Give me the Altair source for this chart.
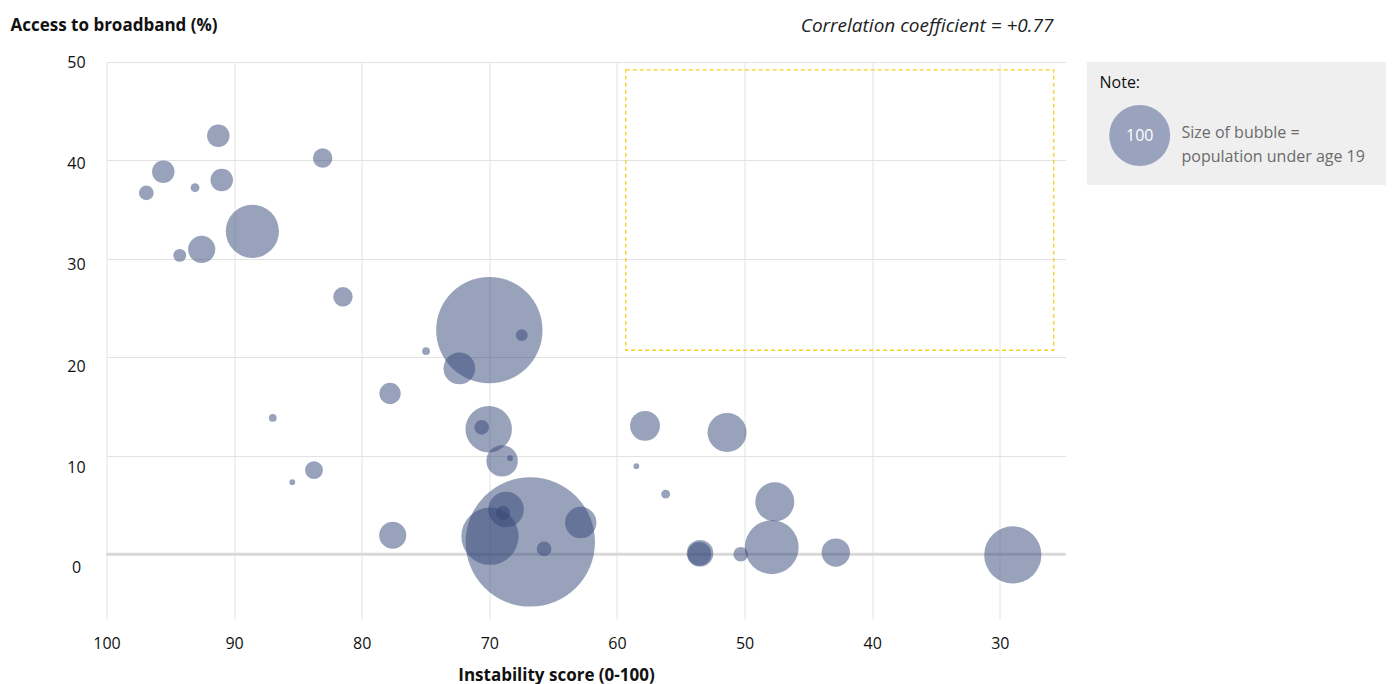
import altair as alt
import pandas as pd

# ---- data ----
instability = [96.88, 95.55, 93.06, 91.24, 90.97, 94.26, 92.54, 88.57, 83.06, 81.47,
               74.96, 70.00, 67.46, 72.35, 77.78, 86.97, 70.05, 70.60, 69.00, 68.38,
               83.74, 85.44, 77.57, 66.79, 69.95, 68.69, 68.93, 65.71, 62.84, 57.80,
               58.48, 56.18, 51.37, 47.63, 47.87, 53.49, 53.54, 50.30, 42.85, 28.98]
broadband = [36.70, 38.85, 37.23, 42.51, 38.01, 30.36, 30.97, 32.80, 40.24, 26.15,
             20.63, 22.76, 22.26, 18.87, 16.33, 13.85, 12.70, 12.89, 9.48, 9.76,
             8.54, 7.32, 1.93, 1.25, 1.83, 4.54, 4.20, 0.54, 3.22, 13.04,
             8.94, 6.10, 12.37, 5.32, 0.71, 0.10, 0.03, 0.00, 0.17, -0.07]
population = [5.8, 13.6, 2.1, 13.6, 13.6, 4.5, 19.8, 76, 10.2, 10.2,
              1.6, 304, 3.8, 27, 12.2, 1.6, 58, 5.8, 26.5, 0.9,
              8.5, 0.9, 19.8, 450, 88, 34, 5.4, 5.8, 26.5, 24,
              0.9, 2.1, 41, 41, 78, 19, 15, 5.8, 21.6, 88]

x_ticks = [100, 90, 80, 70, 60, 50, 40, 30]
y_ticks = [0, 10, 20, 30, 40, 50]
x_domain = [24.85, 100]
y_domain = [-6.58, 50]

# highlighted (empty) quadrant
box_x = [59.31]
box_x2 = [25.77]
box_y = [49.2]
box_y2 = [20.72]

legend_value = [100]
title_text = "Access to broadband (%)"
x_title = "Instability score (0-100)"
corr_text = "Correlation coefficient = +0.77"
note_title = "Note:"
note_lines = ["Size of bubble =", "population under age 19"]

FONT = "Open Sans"
W, H = 959, 557

df = pd.DataFrame({"instability": instability, "broadband": broadband, "population": population})
box_df = pd.DataFrame({"x": box_x, "x2": box_x2, "y": box_y, "y2": box_y2})
zero_df = pd.DataFrame({"y": [0]})
leg_df = pd.DataFrame({"v": legend_value})
one = pd.DataFrame({"k": [0]})

xscale = alt.Scale(domain=x_domain, reverse=True, nice=False, zero=False)
yscale = alt.Scale(domain=y_domain, nice=False, zero=False)
sscale = alt.Scale(domain=[0, 100], range=[0, 3718])

x_axis = alt.Axis(values=x_ticks, grid=True, gridColor="#e2e2e2", domain=False, ticks=False,
                  tickSize=0, labelPadding=16, labelFlush=False, labelFont=FONT, labelFontSize=16,
                  labelColor="#111111", title=x_title, titleFont=FONT, titleFontSize=17,
                  titleFontWeight="bold", titleColor="#111111", titleX=449.5, titleY=56,
                  titleAlign="center", titleBaseline="middle")
y_axis = alt.Axis(values=y_ticks, grid=True, gridColor="#e2e2e2", domain=False, ticks=False,
                  tickSize=0, labelPadding=30.5, labelFlush=False, labelAlign="center",
                  labelBaseline="middle",
                  labelOffset={"condition": [
                      {"test": "datum.value <= 0", "value": 13},
                      {"test": "datum.value <= 10", "value": 12},
                      {"test": "datum.value <= 20", "value": 9},
                      {"test": "datum.value <= 30", "value": 6},
                      {"test": "datum.value <= 40", "value": 3}], "value": 0},
                  labelFont=FONT, labelFontSize=16, labelColor="#111111",
                  title=title_text, titleFont=FONT, titleFontSize=17, titleFontWeight="bold",
                  titleColor="#111111", titleAngle=0, titleAlign="left", titleBaseline="middle",
                  titleX=-96.5, titleY=-37)

base_bubbles = alt.Chart(df).mark_circle(color="#334578", opacity=0.5, strokeWidth=0).encode(
    x=alt.X("instability:Q", scale=xscale, axis=x_axis),
    y=alt.Y("broadband:Q", scale=yscale, axis=y_axis),
    size=alt.Size("population:Q", scale=sscale, legend=None),
)

zero_line = alt.Chart(zero_df).mark_rule(color="#d9d9d9", strokeWidth=3).encode(
    y=alt.Y("y:Q", scale=yscale)
)

quad = alt.Chart(box_df).mark_rect(fill="transparent", stroke="#f5cf1b", strokeWidth=1.3,
                                   strokeDash=[4, 3]).encode(
    x=alt.X("x:Q", scale=xscale), x2="x2:Q",
    y=alt.Y("y:Q", scale=yscale), y2="y2:Q",
)

corr = alt.Chart(one).mark_text(font=FONT, fontSize=19, fontStyle="italic", color="#222222",
                                align="right", baseline="middle").encode(
    x=alt.value(947), y=alt.value(-36), text=alt.value(corr_text)
)

note_bg = alt.Chart(one).mark_rect(color="#efefef").encode(
    x=alt.value(980.5), x2=alt.value(1300), y=alt.value(0), y2=alt.value(123)
)
note_head = alt.Chart(one).mark_text(font=FONT, fontSize=16, color="#111111", align="left",
                                     baseline="middle").encode(
    x=alt.value(993), y=alt.value(21), text=alt.value(note_title)
)
note_bubble = alt.Chart(leg_df).mark_circle(color="#9aa3bd", opacity=1).encode(
    x=alt.value(1033.2), y=alt.value(73.5),
    size=alt.Size("v:Q", scale=sscale, legend=None)
)
note_num = alt.Chart(leg_df).mark_text(font=FONT, fontSize=16, color="#ffffff", align="center",
                                       baseline="middle").encode(
    x=alt.value(1033.2), y=alt.value(74), text=alt.Text("v:Q")
)
note_txt = alt.Chart(one).mark_text(font=FONT, fontSize=16, color="#6b6b6b", align="left",
                                    baseline="middle", lineHeight=24).encode(
    x=alt.value(1075), y=alt.value(71), text=alt.value(note_lines)
)

chart = alt.layer(zero_line, quad, base_bubbles, corr, note_bg, note_head, note_bubble,
                  note_num, note_txt).properties(
    width=W, height=H,
    autosize=alt.AutoSizeParams(type="none"),
    padding={"left": 98.5, "top": 54, "right": 320, "bottom": 65},
).configure_view(strokeOpacity=0)

chart.save("out.html", embed_options={"renderer": "svg", "actions": False})
